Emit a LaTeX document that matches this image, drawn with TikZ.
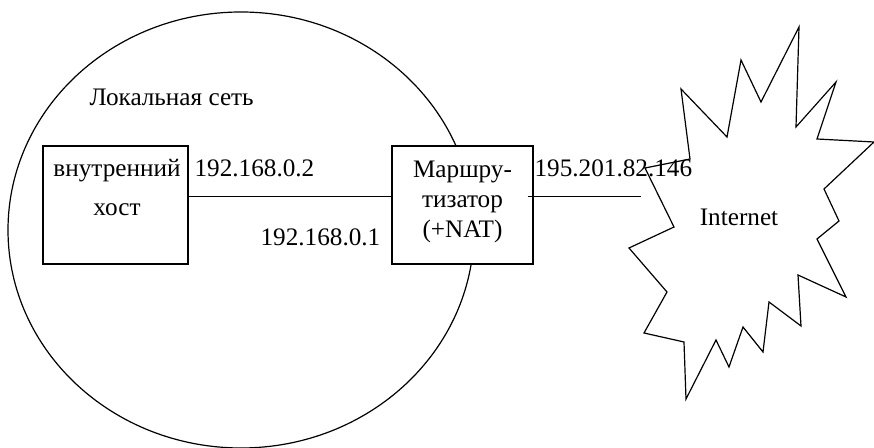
\documentclass[tikz,border=0pt]{standalone}
\usepackage{fontspec}
\setmainfont{Liberation Serif}
\begin{document}
\begin{tikzpicture}[x=0.5pt,y=-0.5pt,line width=0.6pt,
  every node/.style={font=\fontsize{12.6}{15}\selectfont},
  boxnode/.style={draw,fill=white,minimum height=59pt,inner sep=0pt},
  lbl/.style={anchor=base west,inner sep=0pt},
  inbox/.style={anchor=base,align=center,inner sep=0pt}]
\useasboundingbox (0,0) rectangle (874,448);

% local network
\draw (241,230) ellipse [x radius=116.5pt, y radius=109pt];
\node[lbl] (lan) at (89,106) {Локальная сеть};

% inner host and router (text nodes are placed by the baseline of their last line)
\node[boxnode,minimum width=72.5pt] (host) at (115.5,205) {};
\node[inbox] (hosttext) at (117,216) {внутренний\\[4.5pt]хост};
\node[boxnode,minimum width=70.5pt] (router) at (462.5,205) {};
\node[inbox] (routertext) at (462.5,238) {Маршру-\\тизатор\\(+NAT)};

% addresses
\node[lbl] (ipa) at (194,177) {192.168.0.2};
\node[lbl] (ipb) at (260,246) {192.168.0.1};
\node[lbl] (ipc) at (534,177) {195.201.82.146};

% links
\coordinate (netend) at (641,196.5);
\draw ([yshift=4.25pt]host.east) -- ([yshift=4.25pt]router.west);
\draw ([yshift=4.25pt,xshift=-3pt]router.east) -- (netend);

% the Internet cloud
\draw (799,27) -- (796,127) -- (836,82) -- (817,139) -- (874,142) -- (824,189)
  -- (839,221) -- (817,239) -- (846,297) -- (798,275) -- (801,326) -- (769,302)
  -- (763,352) -- (743,327) -- (729,367) -- (716,340) -- (686,399) -- (684,342)
  -- (644,333) -- (667,292) -- (629,248) -- (674,227) -- (645,168) -- (690,159)
  -- (681,89) -- (727,137) -- (741,60) -- (761,102) -- cycle;
\node[anchor=base,inner sep=0pt] (inet) at (739,226) {Internet};
\end{tikzpicture}
\end{document}
